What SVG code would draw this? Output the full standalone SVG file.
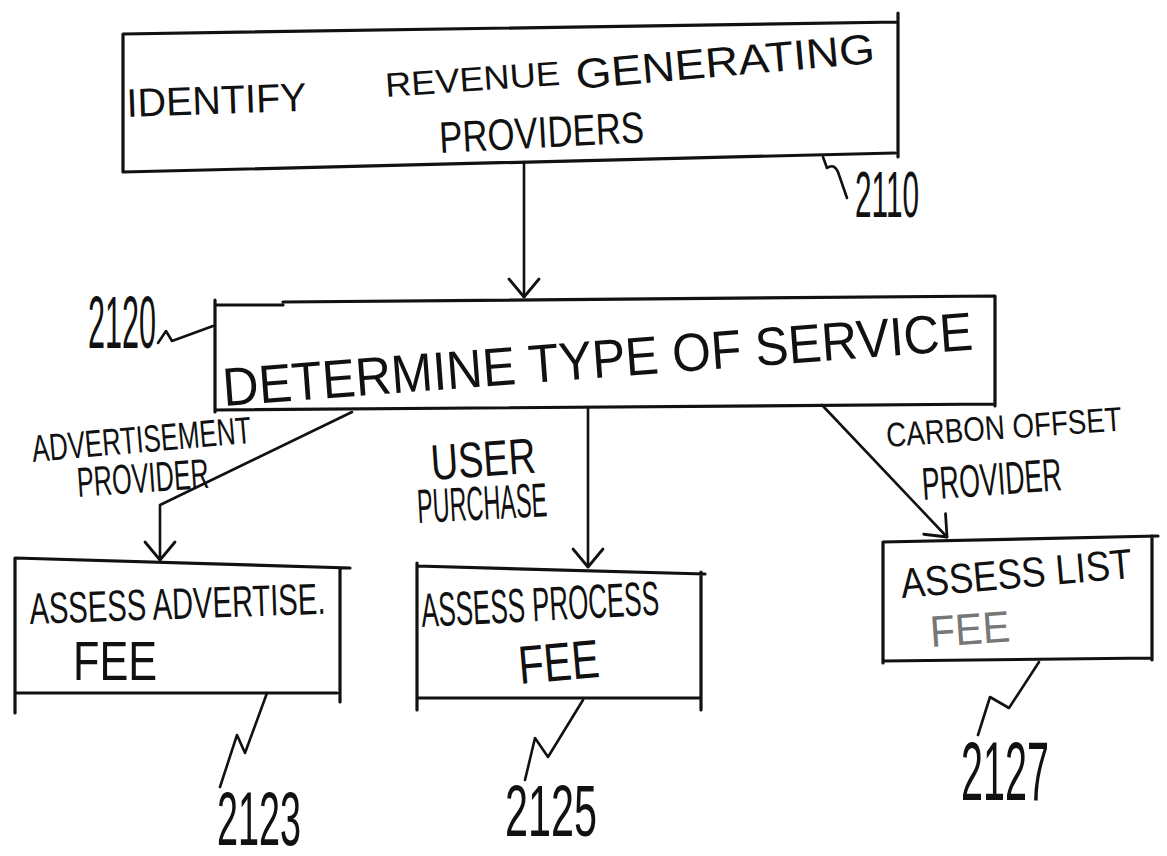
<svg xmlns="http://www.w3.org/2000/svg" width="1167" height="856" viewBox="0 0 1167 856">
<style>
.bg{fill:#fff}
.box{fill:none;stroke:#111;stroke-width:3.2;stroke-linecap:round;stroke-linejoin:round}
.ln{fill:none;stroke:#111;stroke-width:2.6;stroke-linecap:round;stroke-linejoin:round}
.ld{fill:none;stroke:#111;stroke-width:2.6;stroke-linecap:round;stroke-linejoin:round}
.hw{font-family:"Liberation Sans","DejaVu Sans",sans-serif;fill:#111;font-weight:normal}
.num{font-family:"Liberation Sans","DejaVu Sans",sans-serif;fill:#111}
.faint{fill:#777}
</style>
<defs>
<marker id="arr" markerUnits="userSpaceOnUse" viewBox="-22 -20 26 40" markerWidth="26" markerHeight="40" refX="0" refY="0" orient="auto">
<path d="M-18,-15 L0,0 L-18,15" fill="none" stroke="#111" stroke-width="2.8" stroke-linecap="round" stroke-linejoin="round"/>
</marker>
</defs>
<rect class="bg" x="0" y="0" width="1167" height="856"/>

<g id="node-2110">
<path class="box" d="M123,172 L123,34 L898,22 M898,13 L898,157 M123,172 L895,153"/>
<text class="hw" x="127" y="117" font-size="40" textLength="180" lengthAdjust="spacingAndGlyphs" transform="rotate(-2 127 117)">IDENTIFY</text>
<text class="hw" x="386" y="97" font-size="34" textLength="175" lengthAdjust="spacingAndGlyphs" transform="rotate(-4 386 97)">REVENUE</text>
<text class="hw" x="577" y="89" font-size="42" textLength="300" lengthAdjust="spacingAndGlyphs" transform="rotate(-5 577 89)">GENERATING</text>
<text class="hw" x="440" y="153" font-size="44" textLength="205" lengthAdjust="spacingAndGlyphs" transform="rotate(-3 440 153)">PROVIDERS</text>
<path class="ld" d="M823,157 L827,168 Q834,163 838,172 L847,198"/>
<text class="num" x="855" y="217" font-size="64" textLength="64" lengthAdjust="spacingAndGlyphs">2110</text>
</g>

<g id="node-2120">
<path class="box" d="M215,300 L215,412 M215,305 L283,305 M283,302 L995,296 L995,406 M215,410 L995,404"/>
<text class="hw" x="224" y="406" font-size="54" textLength="752" lengthAdjust="spacingAndGlyphs" transform="rotate(-4.3 224 406)">DETERMINE TYPE OF SERVICE</text>
<path class="ld" d="M158,343 L166,331 L172,341 L213,326"/>
<text class="num" x="88" y="348" font-size="74" textLength="68" lengthAdjust="spacingAndGlyphs">2120</text>
</g>

<g id="node-2123">
<path class="box" d="M15,558 L350,568 M340,568 L340,702 M15,558 L15,713 M15,693 L337,693"/>
<text class="hw" x="30" y="624" font-size="44" textLength="296" lengthAdjust="spacingAndGlyphs" transform="rotate(-2 30 624)">ASSESS ADVERTISE.</text>
<text class="hw" x="73" y="680" font-size="56" textLength="84" lengthAdjust="spacingAndGlyphs">FEE</text>
<path class="ld" d="M267,693 L245,753 L237,735 L220,787"/>
<text class="num" x="217" y="845" font-size="76" textLength="84" lengthAdjust="spacingAndGlyphs">2123</text>
</g>

<g id="node-2125">
<path class="box" d="M417,566 L705,574 M701,572 L701,710 M417,563 L417,710 M417,698 L701,698"/>
<text class="hw" x="422" y="627" font-size="48" textLength="238" lengthAdjust="spacingAndGlyphs" transform="rotate(-3 422 627)">ASSESS PROCESS</text>
<text class="hw" x="520" y="684" font-size="54" textLength="81" lengthAdjust="spacingAndGlyphs" transform="rotate(-5 520 684)">FEE</text>
<path class="ld" d="M583,700 L548,757 L535,738 L525,780"/>
<text class="num" x="505" y="836" font-size="72" textLength="92" lengthAdjust="spacingAndGlyphs">2125</text>
</g>

<g id="node-2127">
<path class="box" d="M883,542 L1158,536 M1152,536 L1152,660 M883,542 L883,663 M883,661 L1152,658"/>
<text class="hw" x="902" y="598" font-size="42" textLength="232" lengthAdjust="spacingAndGlyphs" transform="rotate(-5 902 598)">ASSESS LIST</text>
<text class="hw faint" x="931" y="647" font-size="44" textLength="80" lengthAdjust="spacingAndGlyphs" transform="rotate(-4 931 647)">FEE</text>
<path class="ld" d="M1039,662 L1009,708 L990,697 L978,735"/>
<text class="num" x="961" y="800" font-size="84" textLength="88" lengthAdjust="spacingAndGlyphs">2127</text>
</g>

<g id="connectors">
<path class="ln" d="M524,162 L524,297" marker-end="url(#arr)"/>
<path class="ln" d="M352,412 L160,505 L160,560" marker-end="url(#arr)"/>
<path class="ln" d="M588,407 L588,567" marker-end="url(#arr)"/>
<path class="ln" d="M822,405 L947,537" marker-end="url(#arr)"/>
</g>

<g id="labels">
<text class="hw" x="33" y="462" font-size="38" textLength="220" lengthAdjust="spacingAndGlyphs" transform="rotate(-5 33 462)">ADVERTISEMENT</text>
<text class="hw" x="78" y="497" font-size="42" textLength="132" lengthAdjust="spacingAndGlyphs" transform="rotate(-4 78 497)">PROVIDER</text>
<text class="hw" x="432" y="480" font-size="50" textLength="105" lengthAdjust="spacingAndGlyphs" transform="rotate(-4 432 480)">USER</text>
<text class="hw" x="418" y="523" font-size="48" textLength="130" lengthAdjust="spacingAndGlyphs" transform="rotate(-3 418 523)">PURCHASE</text>
<text class="hw" x="887" y="447" font-size="34" textLength="236" lengthAdjust="spacingAndGlyphs" transform="rotate(-4 887 447)">CARBON OFFSET</text>
<text class="hw" x="923" y="500" font-size="46" textLength="140" lengthAdjust="spacingAndGlyphs" transform="rotate(-4 923 500)">PROVIDER</text>
</g>
</svg>
